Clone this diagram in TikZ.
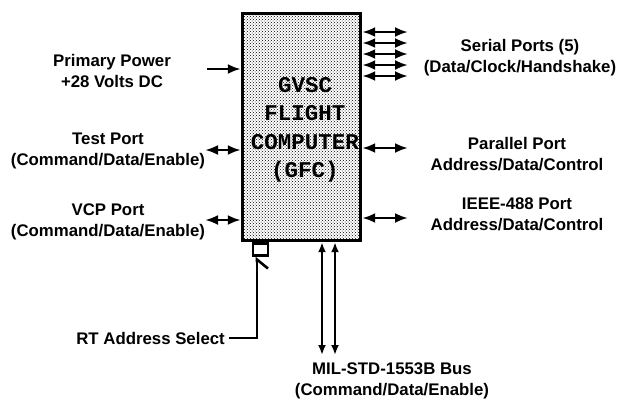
\documentclass[tikz,border=0pt]{standalone}
\usepackage{fontspec}
\setmainfont{Liberation Sans}
\newfontfamily\boxfont{Liberation Mono}
\usetikzlibrary{arrows.meta,patterns}
\begin{document}
\begin{tikzpicture}[x=1pt,y=-1pt,
  lbl/.style={font=\bfseries\fontsize{16.8}{21}\selectfont, align=center, inner sep=0pt},
  arr/.style={line width=2.8pt, -{Latex[length=13pt,width=10pt]}},
  dbl/.style={line width=2.8pt, {Latex[length=13pt,width=10pt]}-{Latex[length=13pt,width=10pt]}},
  bus/.style={line width=2.6pt, {Latex[length=10pt,width=8pt]}-{Latex[length=10pt,width=8pt]}}]
\useasboundingbox (0,0) rectangle (623,402);
% main box
\node[draw, line width=3.4pt, minimum width=118pt, minimum height=227pt, inner sep=0pt,
      pattern={crosshatch dots}, pattern color=black] (gfc) at (301.5,127) {};
\node[font=\boxfont\bfseries\fontsize{22.5}{28.5}\selectfont, align=center, inner sep=0pt] (gfct) at (305,130)
  {GVSC\\FLIGHT\\COMPUTER\\(GFC)};
% small RT box
\node[draw, line width=2.6pt, minimum width=15pt, minimum height=12pt, inner sep=0pt, fill=white, anchor=north]
  (rt) at ([xshift=-41pt]gfc.south) {};
% left labels
\node[lbl] (pp) at (112,71) {Primary Power\\+28 Volts DC};
\node[lbl] (tp) at (108,151) {Test Port\\(Command/Data/Enable)};
\node[lbl] (vp) at (108,222) {VCP Port\\(Command/Data/Enable)};
% right labels
\node[lbl] (sp) at (520,58) {Serial Ports (5)\\(Data/Clock/Handshake)};
\node[lbl] (pa) at (517,154) {Parallel Port\\Address/Data/Control};
\node[lbl] (ie) at (517,214) {IEEE-488 Port\\Address/Data/Control};
% bottom labels
\node[lbl, anchor=east, inner sep=4pt] (rtl) at (229,338) {RT Address Select};
\node[lbl] (mil) at (392,381) {MIL-STD-1553B Bus\\(Command/Data/Enable)};
% coordinates for free ends
\coordinate (ppe) at (207,69);
\coordinate (tpe) at (205,150);
\coordinate (vpe) at (205,220);
\coordinate (pae) at (408,148);
\coordinate (iee) at (408,218);
\coordinate (b1) at (322,355);
\coordinate (b2) at (335,355);
\coordinate (rtc) at (257,338);
% left connectors
\draw[arr] (ppe) -- (ppe -| gfc.west);
\draw[dbl] (tpe) -- (tpe -| gfc.west);
\draw[dbl] (vpe) -- (vpe -| gfc.west);
% right connectors
\foreach \i/\y in {1/32,2/43,3/54,4/65,5/76}{
  \coordinate (s\i) at (408,\y);
  \draw[dbl] (s\i -| gfc.east) -- (s\i);
}
\draw[dbl] (pae -| gfc.east) -- (pae);
\draw[dbl] (iee -| gfc.east) -- (iee);
% bus
\draw[bus] (b1 |- gfc.south) -- (b1);
\draw[bus] (b2 |- gfc.south) -- (b2);
% RT address select
\draw[line width=2.6pt, -{Straight Barb[harpoon,swap,length=9pt,width=22pt,line width=2.6pt]}]
  (rtl.east) -- (rtc) -- (rtc |- rt.south);
\end{tikzpicture}
\end{document}
